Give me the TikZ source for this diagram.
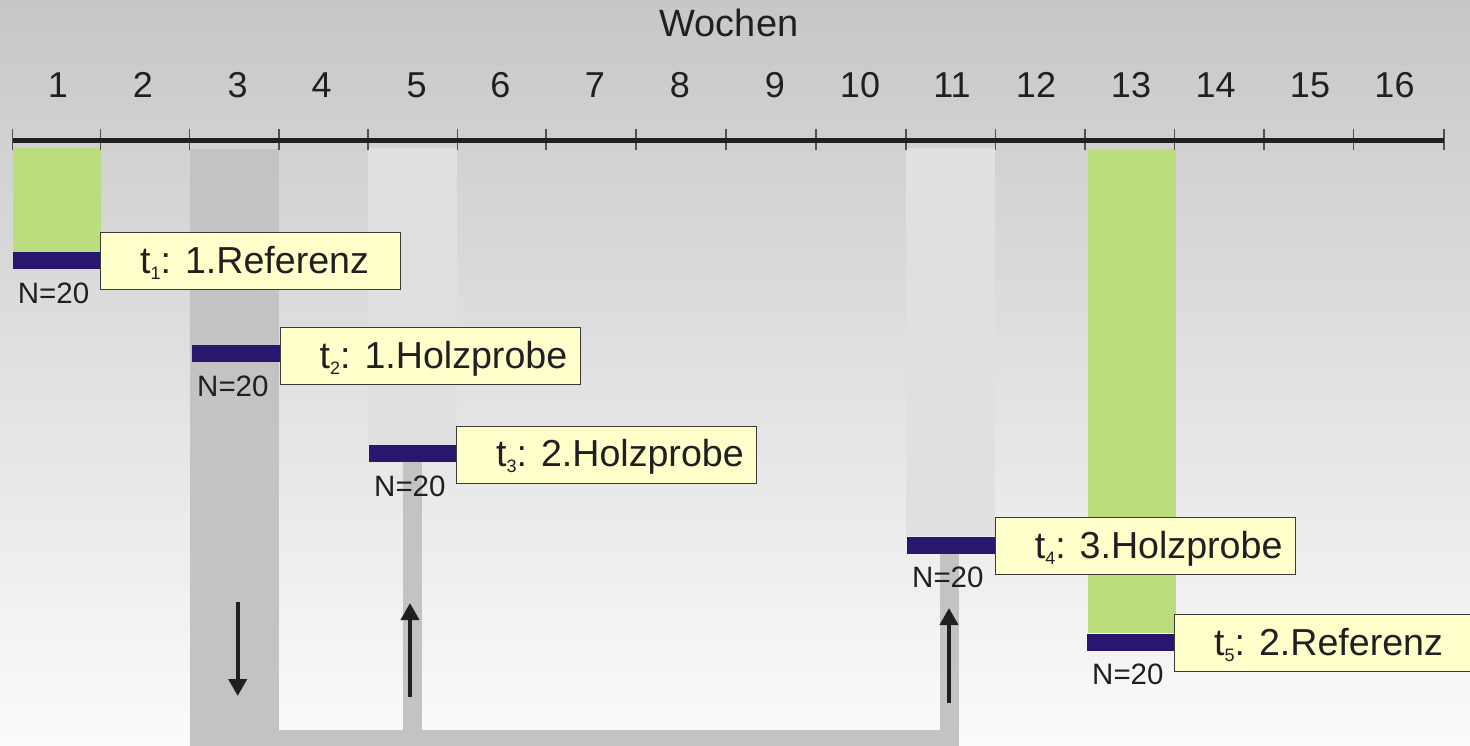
\documentclass[tikz,border=0pt]{standalone}
\usepackage{fontspec}
\setmainfont{Liberation Sans}
\usetikzlibrary{arrows.meta,calc}
\definecolor{bgtop}{RGB}{199,199,199}
\definecolor{bgbot}{RGB}{251,251,251}
\definecolor{darkcol}{RGB}{195,195,195}
\definecolor{lightcol}{RGB}{224,224,224}
\definecolor{refgreen}{RGB}{187,221,125}
\definecolor{navy}{RGB}{41,22,111}
\definecolor{boxfill}{RGB}{255,255,204}
\definecolor{boxline}{RGB}{60,58,56}
\definecolor{ink}{RGB}{35,31,32}
\definecolor{tickc}{RGB}{80,80,80}
\newcommand\tsub[1]{\raisebox{-6pt}{\fontsize{18}{18}\selectfont #1}}
\tikzset{
  barbox/.style={fill=navy, inner sep=0pt, minimum height=17pt, anchor=north west},
  lbox/.style={draw=boxline, line width=1pt, fill=boxfill, inner sep=0pt, minimum width=300pt, minimum height=57pt, anchor=north west},
  ltext/.style={text=ink, inner sep=0pt, anchor=base west, font=\fontsize{37.6}{40}\selectfont},
  nlab/.style={text=ink, inner sep=0pt, anchor=base west, font=\fontsize{29.5}{30}\selectfont},
  num/.style={text=ink, inner sep=0pt, anchor=base, font=\fontsize{36}{40}\selectfont},
  tickline/.style={draw=tickc, line width=1.5pt},
  arr/.style={draw=ink, line width=4pt, -{Triangle[width=18pt,length=17pt]}}
}
\begin{document}
\begin{tikzpicture}[x=1pt,y=-1pt]
\useasboundingbox (0,0) rectangle (1470,746);
\clip (0,0) rectangle (1470,746);
\shade[top color=bgtop, bottom color=bgbot] (0,0) rectangle (1470,746);

% columns
\fill[refgreen] (12.7,148) rectangle (100.7,252);
\fill[darkcol] (189.5,149) rectangle (279,746);
\fill[lightcol] (368,148) rectangle (456.5,445);
\fill[darkcol] (403,461) rectangle (421.5,731);
\fill[lightcol] (906,148) rectangle (995,536);
\fill[darkcol] (940,553) rectangle (959,746);
\fill[darkcol] (189.5,730) rectangle (959,746);
\fill[refgreen] (1088,149) rectangle (1175.6,633);

% timeline
\coordinate (tl0) at (12.7,140.5);
\coordinate (tl1) at (1444,140.5);
\foreach \x in {12.7,100.5,189.7,279,368,457.5,546,636,726,816,906,995.5,1085,1174.5,1264,1353.5,1444}{
  \draw[tickline] (\x,129) -- (\x,150);
}
\draw[draw=ink, line width=4.5pt] (tl0) -- (tl1);

% week numbers
\node[num, font=\fontsize{38}{40}\selectfont] (wochen) at (729,37) {Wochen};
\foreach \n/\x in {1/58,2/143,3/237.7,4/321.7,5/416.7,6/500.5,7/595,8/680,9/775,10/860,11/952,12/1036,13/1131,14/1215.6,15/1310,16/1394.5}{
  \node[num] (w\n) at (\x,98) {\n};
}

% bars
\node[barbox, minimum width=87.3pt] (bar1) at (12.7,252) {};
\node[barbox, minimum width=87.4pt] (bar2) at (192,345) {};
\node[barbox, minimum width=87.7pt] (bar3) at (369,445) {};
\node[barbox, minimum width=87.7pt] (bar4) at (907,536.5) {};
\node[barbox, minimum width=87pt] (bar5) at (1087,633.5) {};

% N labels
\foreach \i in {1,...,5}{
  \node[nlab] (n\i) at ($(bar\i.south west)+(5,34)$) {N=20};
}

% label boxes
\node[lbox] (b1) at (100,232.3) {};
\node[lbox] (b2) at (279.5,326.7) {};
\node[lbox] (b3) at (456,425.7) {};
\node[lbox] (b4) at (994.7,517.3) {};
\node[lbox] (b5) at (1174,614.3) {};

\node[ltext] (l1) at ($(b1.west)+(40,12.5)$) {t\tsub{1}: 1.Referenz};
\node[ltext] (l2) at ($(b2.west)+(40,12.5)$) {t\tsub{2}: 1.Holzprobe};
\node[ltext] (l3) at ($(b3.west)+(40,12)$) {t\tsub{3}: 2.Holzprobe};
\node[ltext] (l4) at ($(b4.west)+(40,12.5)$) {t\tsub{4}: 3.Holzprobe};
\node[ltext] (l5) at ($(b5.west)+(40,12.5)$) {t\tsub{5}: 2.Referenz};

% arrows
\coordinate (a1s) at (237.7,602);
\coordinate (a1e) at (237.7,696);
\coordinate (a2s) at (410,697);
\coordinate (a2e) at (410,603);
\coordinate (a3s) at (949,703);
\coordinate (a3e) at (949,608);
\draw[arr] (a1s) -- (a1e);
\draw[arr] (a2s) -- (a2e);
\draw[arr] (a3s) -- (a3e);
\end{tikzpicture}
\end{document}
